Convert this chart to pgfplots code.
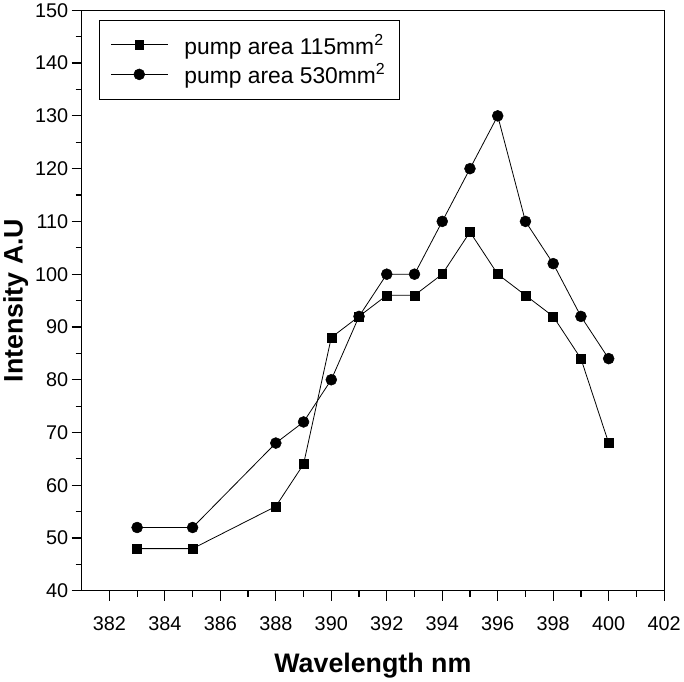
\documentclass[border=0pt]{standalone}
\usepackage{pgfplots}
\pgfplotsset{compat=1.18}
\usepackage{fontspec}
\setmainfont{Liberation Sans}

\begin{document}
\begin{tikzpicture}
\begin{axis}[
  scale only axis,
  width=585bp, height=583bp,
  xmin=381, xmax=402,
  ymin=40, ymax=150,
  xtick={382,384,...,402},
  ytick={40,50,...,150},
  minor x tick num=1,
  minor y tick num=1,
  tick pos=left,
  tick align=outside,
  major tick length=10bp,
  minor tick length=6bp,
  tick style={black, line width=1.2pt},
  axis line style={black, line width=1.2pt},
  /pgf/number format/assume math mode=true,
  /pgf/number format/1000 sep={},
  tick label style={font=\fontsize{20}{24}\selectfont},
  xticklabel style={yshift=-12bp},
  xlabel={\textbf{Wavelength nm}},
  ylabel={\textbf{Intensity A.U}},
  label style={font=\fontsize{27}{30}\selectfont},
  xlabel style={yshift=-16bp},
  legend style={font=\fontsize{23}{26}\selectfont, draw=black, line width=1pt,
    at={(0.029,0.984)}, anchor=north west,
    inner xsep=12bp, inner ysep=12bp, row sep=4bp},
  legend cell align=left,
  legend image code/.code={%
    \draw[mark repeat=2,mark phase=2,#1]
      plot coordinates {(0bp,0bp) (28bp,0bp) (57bp,0bp)};},
]
\addplot[black, line width=0.8pt, mark=square*, mark size=4.5bp,
  mark options={solid, line width=0.5pt}] coordinates
  {(383,48) (385,48) (388,56) (389,64) (390,88) (391,92) (392,96)
   (393,96) (394,100) (395,108) (396,100) (397,96) (398,92) (399,84) (400,68)};
\addlegendentry{\hspace{14bp}pump area 115mm\textsuperscript{2}}
\addplot[black, line width=0.8pt, mark=*, mark size=5.5bp,
  mark options={solid, line width=0.5pt}] coordinates
  {(383,52) (385,52) (388,68) (389,72) (390,80) (391,92) (392,100)
   (393,100) (394,110) (395,120) (396,130) (397,110) (398,102) (399,92) (400,84)};
\addlegendentry{\hspace{14bp}pump area 530mm\textsuperscript{2}}
\end{axis}
\end{tikzpicture}
\end{document}
